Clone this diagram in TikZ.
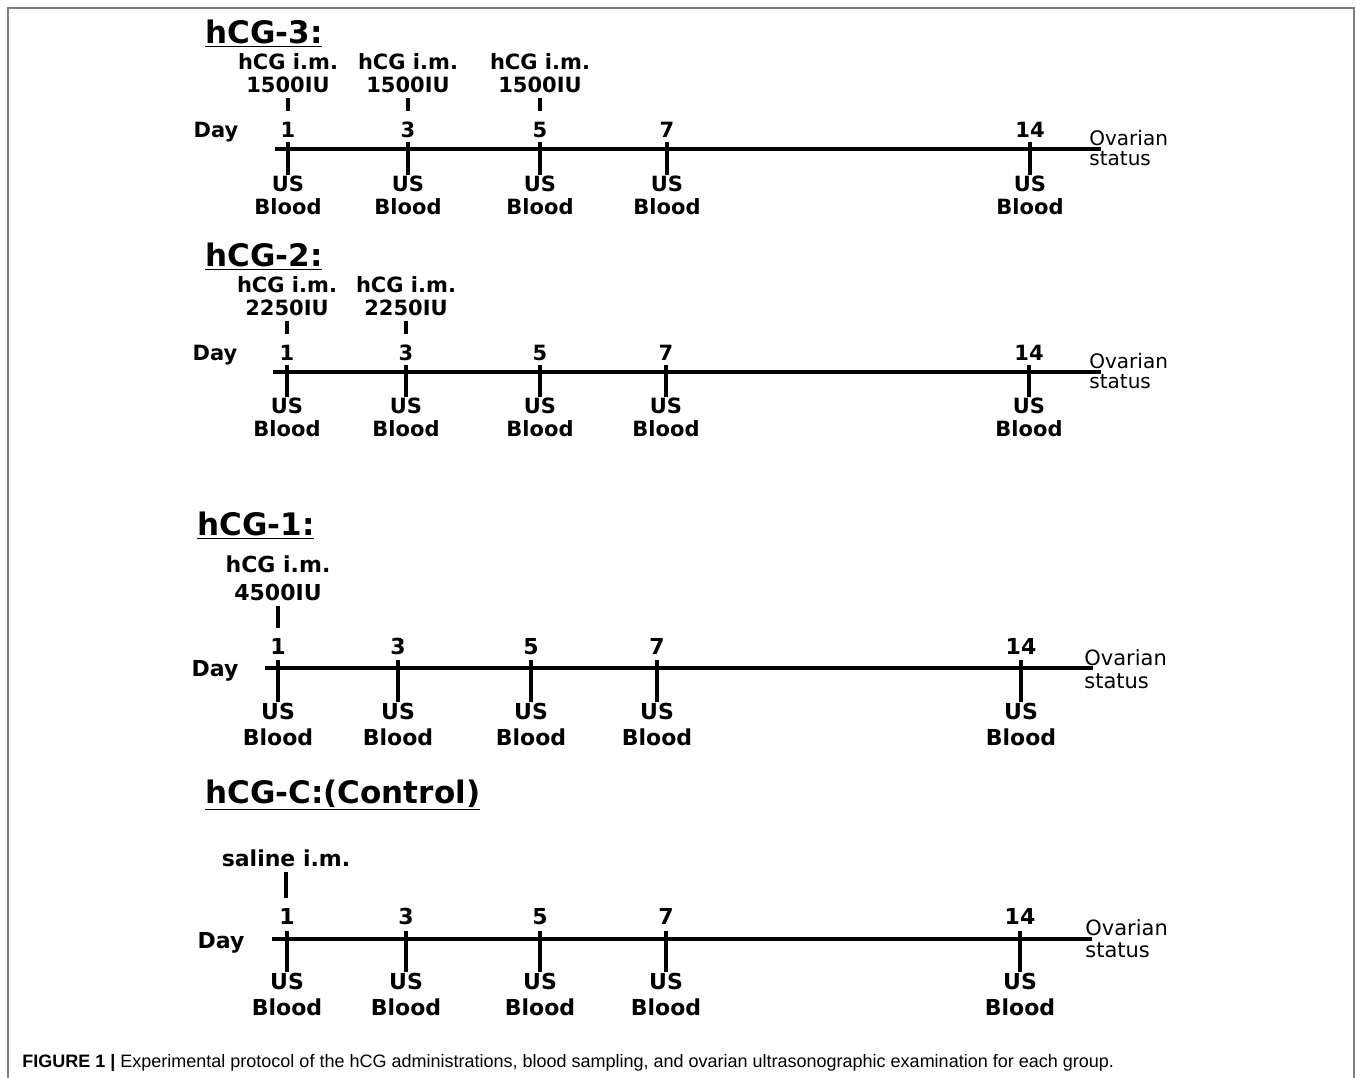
\documentclass[tikz,border=0pt]{standalone}
\usepackage{fontspec}
\setmainfont{DejaVu Sans}
\newfontfamily\capfont{Liberation Sans}
\usepackage{tikz}
\definecolor{framegray}{HTML}{7F7F7F}
\tikzstyle{lbl} = [font=\bfseries\fontsize{10.5}{11.5}\selectfont, inner sep=0pt, align=center]
\tikzstyle{biglbl} = [font=\bfseries\fontsize{11}{14}\selectfont, inner sep=0pt, align=center]
\tikzstyle{daynum} = [lbl, anchor=base]
\tikzstyle{bigdaynum} = [biglbl, anchor=base]
\tikzstyle{sample} = [font=\bfseries\fontsize{11}{13}\selectfont, inner sep=0pt, align=center]
\tikzstyle{grouptitle} = [font=\bfseries\fontsize{15.5}{18}\selectfont, anchor=base west, inner sep=0pt]
\tikzstyle{outcome} = [font=\fontsize{10}{9.6}\selectfont, anchor=west, align=left, inner sep=0pt]
\tikzstyle{axis} = [line width=1.6pt]
\tikzstyle{tick} = [line width=1.8pt]
\tikzstyle{dosetick} = [line width=1.8pt, shorten <=2.5pt, shorten >=5pt]

\begin{document}
\begin{tikzpicture}[x=0.5pt, y=-0.5pt]
\useasboundingbox (0,0) rectangle (1357,1078);
\draw[framegray, line width=1pt] (8,1078) -- (8,8) -- (1354,8) -- (1354,1078);

% hCG-3
\node[grouptitle] (g3) at (205,43) {\underline{hCG-3:}};
\node[lbl] (i3a) at (288,73) {hCG i.m.\\1500IU};
\node[lbl] (i3b) at (408,73) {hCG i.m.\\1500IU};
\node[lbl] (i3c) at (540,73) {hCG i.m.\\1500IU};
\node[daynum] (day3) at (216,137) {Day};
\node[daynum] (d3a) at (288,137) {1};
\node[daynum] (d3b) at (408,137) {3};
\node[daynum] (d3c) at (540,137) {5};
\node[daynum] (d3d) at (667,137) {7};
\node[daynum] (d3e) at (1030,137) {14};
\node[outcome] (o3) at (1089,148) {Ovarian\\status};
\node[lbl] (s3a) at (288,195) {US\\Blood};
\node[lbl] (s3b) at (408,195) {US\\Blood};
\node[lbl] (s3c) at (540,195) {US\\Blood};
\node[lbl] (s3d) at (667,195) {US\\Blood};
\node[lbl] (s3e) at (1030,195) {US\\Blood};
\coordinate (l3) at (275,149);
\coordinate (r3) at (1101,149);
\draw[axis] (l3) -- (r3);
\draw[dosetick] (i3a) -- (d3a);
\draw[dosetick] (i3b) -- (d3b);
\draw[dosetick] (i3c) -- (d3c);
\draw[tick] (s3a.north |- 0,142) -- (s3a.north);
\draw[tick] (s3b.north |- 0,142) -- (s3b.north);
\draw[tick] (s3c.north |- 0,142) -- (s3c.north);
\draw[tick] (s3d.north |- 0,142) -- (s3d.north);
\draw[tick] (s3e.north |- 0,142) -- (s3e.north);

% hCG-2
\node[grouptitle] (g2) at (205,266) {\underline{hCG-2:}};
\node[lbl] (i2a) at (287,296) {hCG i.m.\\2250IU};
\node[lbl] (i2b) at (406,296) {hCG i.m.\\2250IU};
\node[daynum] (day2) at (215,360) {Day};
\node[daynum] (d2a) at (287,360) {1};
\node[daynum] (d2b) at (406,360) {3};
\node[daynum] (d2c) at (540,360) {5};
\node[daynum] (d2d) at (666,360) {7};
\node[daynum] (d2e) at (1029,360) {14};
\node[outcome] (o2) at (1089,371) {Ovarian\\status};
\node[lbl] (s2a) at (287,417) {US\\Blood};
\node[lbl] (s2b) at (406,417) {US\\Blood};
\node[lbl] (s2c) at (540,417) {US\\Blood};
\node[lbl] (s2d) at (666,417) {US\\Blood};
\node[lbl] (s2e) at (1029,417) {US\\Blood};
\coordinate (l2) at (273,372);
\coordinate (r2) at (1101,372);
\draw[axis] (l2) -- (r2);
\draw[dosetick] (i2a) -- (d2a);
\draw[dosetick] (i2b) -- (d2b);
\draw[tick] (s2a.north |- 0,365) -- (s2a.north);
\draw[tick] (s2b.north |- 0,365) -- (s2b.north);
\draw[tick] (s2c.north |- 0,365) -- (s2c.north);
\draw[tick] (s2d.north |- 0,365) -- (s2d.north);
\draw[tick] (s2e.north |- 0,365) -- (s2e.north);

% hCG-1
\node[grouptitle] (g1) at (197,535) {\underline{hCG-1:}};
\node[biglbl] (i1a) at (278,578) {hCG i.m.\\4500IU};
\node[bigdaynum] (day1) at (215,676) {Day};
\node[bigdaynum] (d1a) at (278,654) {1};
\node[bigdaynum] (d1b) at (398,654) {3};
\node[bigdaynum] (d1c) at (531,654) {5};
\node[bigdaynum] (d1d) at (657,654) {7};
\node[bigdaynum] (d1e) at (1021,654) {14};
\node[outcome, font=\fontsize{10.5}{11.5}\selectfont] (o1) at (1084,669) {Ovarian\\status};
\node[sample] (s1a) at (278,724) {US\\Blood};
\node[sample] (s1b) at (398,724) {US\\Blood};
\node[sample] (s1c) at (531,724) {US\\Blood};
\node[sample] (s1d) at (657,724) {US\\Blood};
\node[sample] (s1e) at (1021,724) {US\\Blood};
\coordinate (l1) at (265,668);
\coordinate (r1) at (1093,668);
\draw[axis] (l1) -- (r1);
\draw[dosetick] (i1a) -- (d1a);
\draw[tick] (s1a.north |- 0,660) -- (s1a.north);
\draw[tick] (s1b.north |- 0,660) -- (s1b.north);
\draw[tick] (s1c.north |- 0,660) -- (s1c.north);
\draw[tick] (s1d.north |- 0,660) -- (s1d.north);
\draw[tick] (s1e.north |- 0,660) -- (s1e.north);

% hCG-C
\node[grouptitle] (gc) at (205,803) {\underline{hCG-C:(Control)}};
\node[biglbl] (ica) at (286,858) {saline i.m.};
\node[bigdaynum] (dayc) at (221,948) {Day};
\node[bigdaynum] (dca) at (287,924) {1};
\node[bigdaynum] (dcb) at (406,924) {3};
\node[bigdaynum] (dcc) at (540,924) {5};
\node[bigdaynum] (dcd) at (666,924) {7};
\node[bigdaynum] (dce) at (1020,924) {14};
\node[outcome, font=\fontsize{10.5}{11}\selectfont] (oc) at (1085,939) {Ovarian\\status};
\node[sample] (sca) at (287,994) {US\\Blood};
\node[sample] (scb) at (406,994) {US\\Blood};
\node[sample] (scc) at (540,994) {US\\Blood};
\node[sample] (scd) at (666,994) {US\\Blood};
\node[sample] (sce) at (1020,994) {US\\Blood};
\coordinate (lc) at (272,939);
\coordinate (rc) at (1092,939);
\draw[axis] (lc) -- (rc);
\draw[dosetick] (ica) -- (dca.north -| ica);
\draw[tick] (sca.north |- 0,931) -- (sca.north);
\draw[tick] (scb.north |- 0,931) -- (scb.north);
\draw[tick] (scc.north |- 0,931) -- (scc.north);
\draw[tick] (scd.north |- 0,931) -- (scd.north);
\draw[tick] (sce.north |- 0,931) -- (sce.north);

\node[anchor=west, inner sep=0pt, font=\capfont\fontsize{9}{10}\selectfont] (cap) at (22,1063)
  {\textbf{FIGURE 1 |} Experimental protocol of the hCG administrations, blood sampling, and ovarian ultrasonographic examination for each group.};
\end{tikzpicture}
\end{document}
